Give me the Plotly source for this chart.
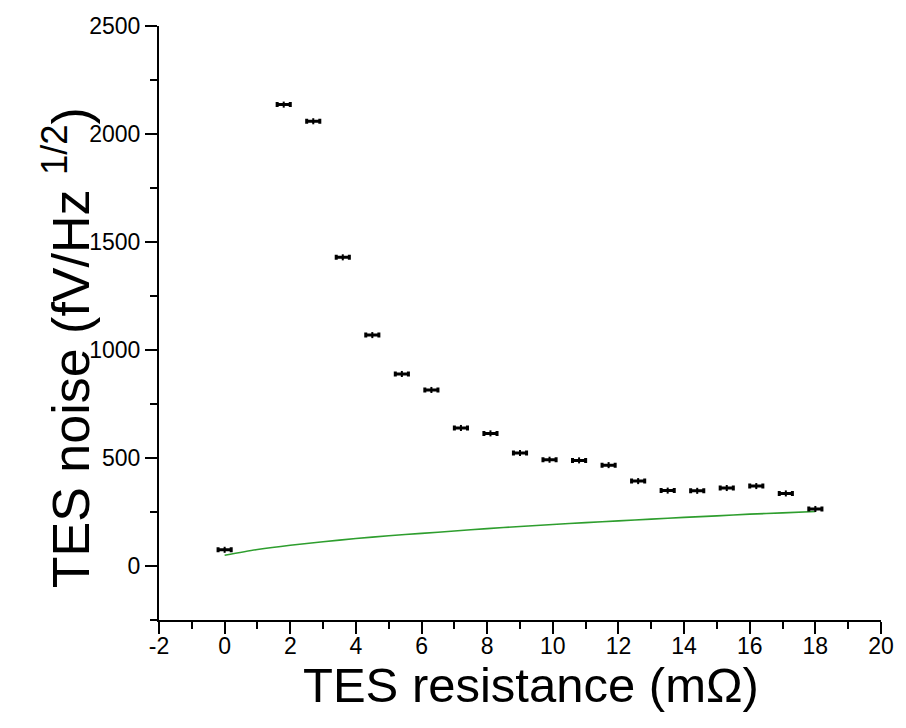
import plotly.graph_objects as go

# Measured data
resistance = [0.0, 1.8, 2.7, 3.6, 4.5, 5.4, 6.3, 7.2, 8.1, 9.0, 9.9, 10.8, 11.7,
              12.6, 13.5, 14.4, 15.3, 16.2, 17.1, 18.0]
noise = [75, 2136, 2059, 1429, 1069, 889, 815, 639, 614, 523, 492, 489, 467,
         393, 349, 348, 361, 370, 336, 264]
resistance_err = [0.2] * len(resistance)
noise_err = [14] * len(resistance)

# Model curve (green)
model_r = [0, 1, 2, 3, 4, 5, 6, 7, 8, 9, 10, 11, 12, 13, 14, 15, 16, 17, 18]
model_noise = [50, 76, 96, 112, 127, 140, 151, 162, 173, 183, 192, 201, 209,
               217, 225, 232, 240, 246, 252]

x_ticks = [-2, 0, 2, 4, 6, 8, 10, 12, 14, 16, 18, 20]
x_tick_labels = ["-2", "0", "2", "4", "6", "8", "10", "12", "14", "16", "18", "20"]
y_ticks = [0, 500, 1000, 1500, 2000, 2500]

FONT = "Liberation Sans, Arial, sans-serif"

fig = go.Figure()
fig.add_trace(go.Scatter(
    x=model_r, y=model_noise, mode="lines",
    line=dict(color="#2e9e2e", width=1.6, shape="spline", smoothing=0.6),
    showlegend=False, hoverinfo="skip"))
fig.add_trace(go.Scatter(
    x=resistance, y=noise, mode="markers",
    marker=dict(size=3, color="black"),
    error_x=dict(type="data", array=resistance_err, color="black",
                 thickness=3, width=2.5),
    error_y=dict(type="data", array=noise_err, color="black",
                 thickness=2, width=0),
    showlegend=False))

axis_common = dict(
    showgrid=False, zeroline=False, showline=True, linecolor="black",
    linewidth=2, ticks="outside", ticklen=12, tickwidth=2, tickcolor="black",
    tickfont=dict(family=FONT, size=23, color="black"),
    minor=dict(ticks="outside", ticklen=7, tickwidth=2, tickcolor="black"),
    mirror=False,
)

fig.update_layout(
    width=906, height=728,
    margin=dict(l=159, r=15, t=26, b=108),
    paper_bgcolor="white", plot_bgcolor="white",
    xaxis=dict(range=[-2, 20], tickvals=x_ticks, ticktext=x_tick_labels,
               ticklabelstandoff=-8, **axis_common),
    yaxis=dict(range=[-250, 2500], tickvals=y_ticks, **axis_common),
    annotations=[
        dict(text="TES resistance (mΩ)", xref="paper", yref="paper",
             x=0.515, y=-0.11, xanchor="center", yanchor="middle",
             showarrow=False, font=dict(family=FONT, size=49, color="black")),
        dict(text="TES noise (fV/Hz <sup>1/2</sup>)", xref="paper", yref="paper",
             x=-0.127, y=0.458, xanchor="center", yanchor="middle", textangle=-90,
             showarrow=False, font=dict(family=FONT, size=52, color="black")),
    ],
)
fig.update_xaxes(minor_dtick=1)
fig.update_yaxes(minor_dtick=250)

fig.write_html("out.html")
